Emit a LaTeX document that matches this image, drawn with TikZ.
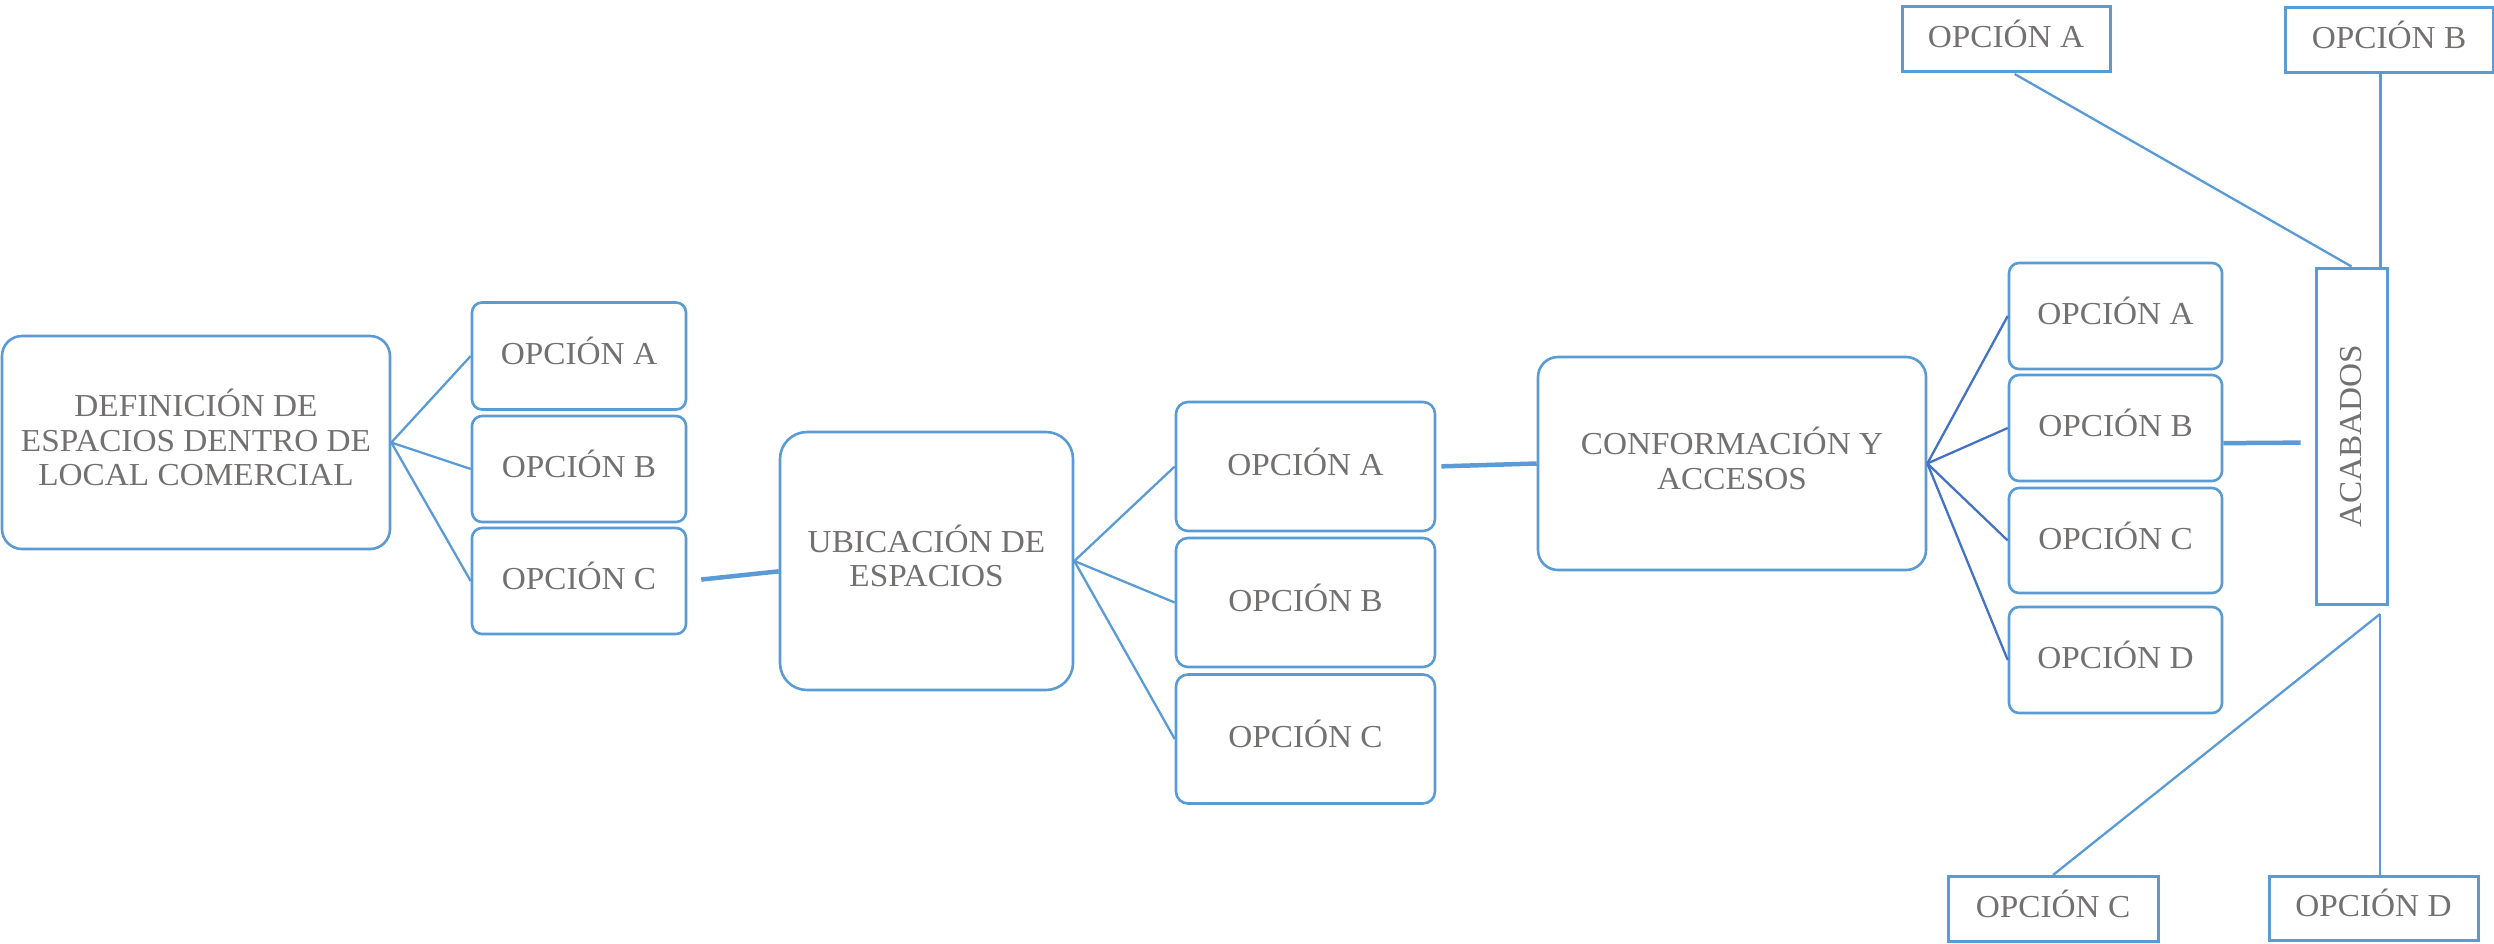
\documentclass[tikz,border=0pt]{standalone}
\usepackage{fontspec}
\setmainfont{Liberation Serif}[FakeStretch=1.04]
\definecolor{linea}{HTML}{5B9BD5}
\definecolor{lineaosc}{HTML}{4472C4}
\definecolor{texto}{HTML}{737070}

\begin{document}
\begin{tikzpicture}[x=1pt,y=-1pt,
  caja/.style={draw=linea,line width=2.6pt,rounded corners=#1,inner sep=0pt,align=center,text depth=10pt,text=texto,font=\fontsize{32}{34.5}\selectfont},
  opcion/.style={caja=10pt,minimum width=214pt},
  opcionu/.style={caja=12pt,minimum width=259pt,minimum height=129pt},
  recto/.style={draw=linea,line width=3pt,inner sep=0pt,text depth=10pt,text=texto,font=\fontsize{32}{34.5}\selectfont},
  con/.style={draw=linea,line width=2.3pt},
  conosc/.style={draw=lineaosc,line width=2.3pt},
  grueso/.style={draw=linea,line width=4.5pt}]
\path[use as bounding box] (0,0) rectangle (2494,943);
\node[caja=20pt,minimum width=388pt,minimum height=213pt] (def) at (196,442.5) {DEFINICIÓN DE\\ESPACIOS DENTRO DE\\LOCAL COMERCIAL};
\node[opcion,minimum height=107pt] (defA) at (579,356) {OPCIÓN A};
\node[opcion,minimum height=106pt] (defB) at (579,469) {OPCIÓN B};
\node[opcion,minimum height=106pt] (defC) at (579,581) {OPCIÓN C};
\draw[con] (def.east) -- (defA.west);
\draw[con] (def.east) -- (defB.west);
\draw[con] (def.east) -- (defC.west);
\node[caja=27pt,minimum width=293pt,minimum height=258pt] (ubic) at (926.5,561) {UBICACIÓN DE\\ESPACIOS};
\draw[grueso,shorten <=14pt] (defC.east) -- (ubic.184);
\node[opcionu] (ubiA) at (1305.5,466.5) {OPCIÓN A};
\node[opcionu] (ubiB) at (1305.5,602.5) {OPCIÓN B};
\node[opcionu] (ubiC) at (1305.5,739) {OPCIÓN C};
\draw[con] (ubic.east) -- (ubiA.west);
\draw[con] (ubic.east) -- (ubiB.west);
\draw[con] (ubic.east) -- (ubiC.west);
\node[caja=20pt,minimum width=388pt,minimum height=213pt] (conf) at (1732,463.5) {CONFORMACIÓN Y\\ACCESOS};
\draw[grueso,shorten <=5pt] (ubiA.east) -- (conf.west);
\node[opcion,minimum width=213pt,minimum height=106pt] (confA) at (2115.5,316) {OPCIÓN A};
\node[opcion,minimum width=213pt,minimum height=106pt] (confB) at (2115.5,428) {OPCIÓN B};
\node[opcion,minimum width=213pt,minimum height=105pt] (confC) at (2115.5,540.5) {OPCIÓN C};
\node[opcion,minimum width=213pt,minimum height=106pt] (confD) at (2115.5,660) {OPCIÓN D};
\draw[conosc] (conf.east) -- (confA.west);
\draw[conosc] (conf.east) -- (confB.west);
\draw[conosc] (conf.east) -- (confC.west);
\draw[conosc] (conf.east) -- (confD.west);
\node[recto,text depth=0pt,minimum width=71pt,minimum height=336pt] (acab) at (2351.5,436) {\rotatebox{90}{ACABADOS}};
\draw[grueso,shorten >=14pt] (confB.-8) -- (acab.190);
\node[recto,minimum width=208pt,minimum height=65pt] (acabA) at (2006,38.5) {OPCIÓN A};
\node[recto,minimum width=208pt,minimum height=65pt] (acabB) at (2389,39.5) {OPCIÓN B};
\node[recto,minimum width=210pt,minimum height=65pt] (acabC) at (2053,909) {OPCIÓN C};
\node[recto,minimum width=209pt,minimum height=64pt] (acabD) at (2373.5,908) {OPCIÓN D};
\coordinate (pie) at (2380,614);
\draw[con,shorten <=3pt] (acabA.-80) -- (acab.north);
\draw[con] (acabB.-104) -- (acabB.-104 |- acab.north);
\draw[con] (acabC.north) -- (pie);
\draw[con] (pie) -- (pie |- acabD.north);
\end{tikzpicture}
\end{document}
